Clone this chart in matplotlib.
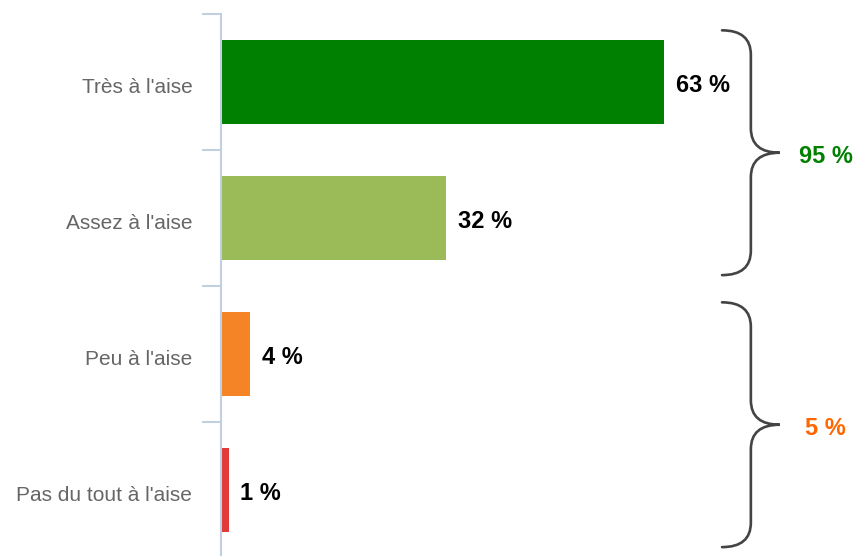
import matplotlib
matplotlib.use("Agg")
import matplotlib.pyplot as plt
from matplotlib.path import Path
from matplotlib.patches import PathPatch
from matplotlib.transforms import ScaledTranslation

categories = ["Très à l'aise", "Assez à l'aise", "Peu à l'aise", "Pas du tout à l'aise"]
values = [63, 32, 4, 1]
value_labels = ["63 %", "32 %", "4 %", "1 %"]
bar_colors = ["#008000", "#9BBB59", "#F58426", "#E03A3A"]
groups = [(0, 1), (2, 3)]
group_labels = ["95 %", "5 %"]
group_colors = ["#008000", "#FF6600"]

plt.rcParams['font.family'] = ['Liberation Sans', 'DejaVu Sans']

W, H = 854, 556
fig = plt.figure(figsize=(W / 100, H / 100), dpi=100)
ax_left = 221.5 / W
ax_top = 1 - 14 / H
ax_bottom = 1 - 558 / H
px_per_unit = 7.03
xmax = (W - 221.5) / px_per_unit
ax = fig.add_axes([ax_left, ax_bottom, 1 - ax_left, ax_top - ax_bottom])

y = list(range(len(categories)))
ax.barh(y, values, height=0.62, color=bar_colors, zorder=2)
ax.set_xlim(0, xmax)
ax.set_ylim(len(categories) - 0.5, -0.5)

for s in ["top", "right", "bottom"]:
    ax.spines[s].set_visible(False)
ax.spines["left"].set_color("#C0D0E0")
ax.spines["left"].set_linewidth(1.5)
ax.set_xticks([])
ax.set_yticks([i - 0.5 for i in range(len(categories) + 1)], minor=False)
ax.set_yticklabels([])
ax.tick_params(axis="y", which="major", length=14, width=1.5, color="#C0D0E0")
ax.set_yticks(y, minor=True)
ax.set_yticklabels(categories, minor=True, fontsize=15, color="#666666")
ax.tick_params(axis="y", which="minor", length=0, pad=21)
shift = ScaledTranslation(0, -3.5 / 100, fig.dpi_scale_trans)
for lab in ax.get_yticklabels(minor=True):
    lab.set_transform(lab.get_transform() + shift)

for i, (v, lab) in enumerate(zip(values, value_labels)):
    ax.annotate(lab, (v, i), xytext=(8.6, -2.2), textcoords="offset points",
                ha="left", va="center", fontsize=17, fontweight="bold", color="black")

# braces
x0, xv, xt = 71.2, 75.3, 79.4
ry = 0.18
for (g0, g1), glab, gcol in zip(groups, group_labels, group_colors):
    y0 = g0 - 0.38
    y1 = g1 + 0.42
    ym = (g0 + g1) / 2 + 0.02
    verts = [
        (x0, y0), (xv, y0), (xv, y0 + ry),
        (xv, ym - ry),
        (xv, ym), (xt, ym),
        (xv, ym), (xv, ym + ry),
        (xv, y1 - ry),
        (xv, y1), (x0, y1),
    ]
    codes = [Path.MOVETO, Path.CURVE3, Path.CURVE3,
             Path.LINETO,
             Path.CURVE3, Path.CURVE3,
             Path.CURVE3, Path.CURVE3,
             Path.LINETO,
             Path.CURVE3, Path.CURVE3]
    ax.add_patch(PathPatch(Path(verts, codes), fill=False, edgecolor="#444444",
                           linewidth=1.9, clip_on=False, capstyle="round"))
    ax.annotate(glab, (xt, ym), xytext=(33, -2.5), textcoords="offset points",
                ha="center", va="center", fontsize=17, fontweight="bold",
                color=gcol, annotation_clip=False)

fig.savefig("out.png", dpi=100)
